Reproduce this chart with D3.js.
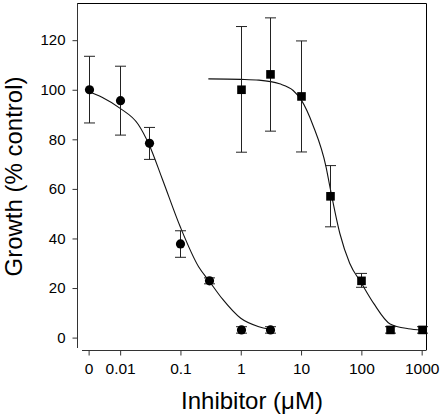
<!DOCTYPE html>
<html>
<head>
<meta charset="utf-8">
<script src="https://cdn.jsdelivr.net/npm/d3@7/dist/d3.min.js"></script>
<style>
  html, body { margin: 0; padding: 0; background: #fff; }
  svg { display: block; }
  text { font-family: "Liberation Sans", Arial, sans-serif; fill: #000; }
</style>
</head>
<body>
<svg id="chart" width="442" height="418"></svg>
<script>
// ---- data ----
const zeroPosition = 0.003;           // where the "0" concentration is drawn on the log axis
const xTickValues = [0, 0.01, 0.1, 1, 10, 100, 1000];
const xTickLabels = ["0", "0.01", "0.1", "1", "10", "100", "1000"];
const yTickValues = [0, 20, 40, 60, 80, 100, 120];

const circleX  = [0, 0.01, 0.03, 0.1, 0.3, 1, 3];
const circleY  = [100, 95.6, 78.4, 37.8, 22.9, 3.1, 3.1];
const circleLo = [86.6, 81.7, 71.9, 32.4, 21.7, 1.8, 1.8];
const circleHi = [113.5, 109.5, 84.8, 43.1, 24.1, 4.4, 4.4];

const squareX  = [1, 3, 10, 30, 100, 300, 1000];
const squareY  = [100, 106.2, 97.3, 57, 22.9, 3.1, 3.1];
const squareLo = [74.8, 83.3, 74.9, 44.7, 20.3, 1.8, 1.8];
const squareHi = [125.5, 129, 119.7, 69.4, 25.9, 4.4, 4.4];

const fit1X = [0, 0.005, 0.01, 0.02, 0.03, 0.05, 0.1, 0.2, 0.3, 0.5, 1, 2, 3];
const fit1Y = [99.3, 97, 92.5, 86, 78, 64, 44.5, 28.6, 22.8, 15.5, 7.8, 4.4, 3.4];

const fit2X = [0.29, 1, 2, 4.4, 7.4, 10, 15.8, 26, 30, 44, 64, 100, 160, 300, 600, 1000];
const fit2Y = [104.4, 104.2, 103.9, 102.4, 99.7, 96, 85.6, 68.8, 61, 42, 30, 22, 13.8, 5.5, 3.6, 3.1];

// ---- layout ----
const pL = 78, pR = 426, pT = 3, pB = 350;
const svg = d3.select("#chart");

const x = d3.scaleLog().domain([0.002, 1180]).range([pL, pR]);
const y = d3.scaleLinear().domain([-5, 135]).range([pB, pT]);
const xp = v => x(v === 0 ? zeroPosition : v);

// frame (top + right)
svg.append("path")
  .attr("d", `M${pL},${pT + 0.5}H${pR + 0.5}V${pB}`)
  .attr("fill", "none").attr("stroke", "#000").attr("stroke-width", 1);
// y axis line
svg.append("line").attr("x1", pL - 0.5).attr("x2", pL - 0.5)
  .attr("y1", pT).attr("y2", pB - 2)
  .attr("stroke", "#333").attr("stroke-width", 1);
// x axis line
svg.append("line").attr("x1", pL + 4).attr("x2", pR + 0.5)
  .attr("y1", pB + 0.5).attr("y2", pB + 0.5)
  .attr("stroke", "#333").attr("stroke-width", 1);

// x axis
const gx = svg.append("g").attr("transform", `translate(0,${pB + 0.5})`);
gx.call(d3.axisBottom(x)
  .tickValues(xTickValues.map(v => v === 0 ? zeroPosition : v))
  .tickFormat((d, i) => xTickLabels[i])
  .tickSize(5).tickSizeOuter(0).tickPadding(7));
gx.select(".domain").remove();
gx.selectAll(".tick line").attr("stroke", "#333");
gx.selectAll("text").attr("font-size", 15.5).attr("fill", "#000")
  .style("font-family", '"Liberation Sans", Arial, sans-serif');

// y axis
const gy = svg.append("g").attr("transform", `translate(${pL - 0.5},0)`);
gy.call(d3.axisLeft(y).tickValues(yTickValues).tickSize(5).tickSizeOuter(0).tickPadding(7));
gy.select(".domain").remove();
gy.selectAll(".tick line").attr("stroke", "#333");
gy.selectAll("text").attr("font-size", 15).attr("fill", "#000")
  .style("font-family", '"Liberation Sans", Arial, sans-serif');

// axis titles
svg.append("text")
  .attr("x", (pL + pR) / 2).attr("y", 409)
  .attr("text-anchor", "middle").attr("font-size", 24)
  .text("Inhibitor (μM)");
svg.append("text")
  .attr("transform", `translate(21.5,${(pT + pB) / 2}) rotate(-90)`)
  .attr("text-anchor", "middle").attr("font-size", 24)
  .text("Growth (% control)");

// fitted curves
const line = d3.line().x(d => xp(d[0])).y(d => y(d[1])).curve(d3.curveMonotoneX);
svg.append("path").datum(fit1X.map((v, i) => [v, fit1Y[i]]))
  .attr("d", line).attr("fill", "none").attr("stroke", "#111").attr("stroke-width", 1.1);
svg.append("path").datum(fit2X.map((v, i) => [v, fit2Y[i]]))
  .attr("d", line).attr("fill", "none").attr("stroke", "#111").attr("stroke-width", 1.1);

// error bars
function errorBars(xs, lo, hi) {
  const g = svg.append("g").attr("stroke", "#222").attr("stroke-width", 1).attr("fill", "none");
  xs.forEach((v, i) => {
    const cx = Math.round(xp(v)) + 0.5;
    const y1 = y(lo[i]), y2 = y(hi[i]);
    g.append("path").attr("d",
      `M${cx},${y1}V${y2}M${cx - 5.5},${y1}H${cx + 5.5}M${cx - 5.5},${y2}H${cx + 5.5}`);
  });
}
errorBars(circleX, circleLo, circleHi);
errorBars(squareX, squareLo, squareHi);

// markers
svg.append("g").selectAll("circle").data(circleX).join("circle")
  .attr("cx", d => Math.round(xp(d)) + 0.5)
  .attr("cy", (d, i) => y(circleY[i]))
  .attr("r", 4.6).attr("fill", "#000");
svg.append("g").selectAll("rect").data(squareX).join("rect")
  .attr("x", d => Math.round(xp(d)) + 0.5 - 4.3)
  .attr("y", (d, i) => y(squareY[i]) - 4.3)
  .attr("width", 8.6).attr("height", 8.6).attr("fill", "#000");
</script>
</body>
</html>
